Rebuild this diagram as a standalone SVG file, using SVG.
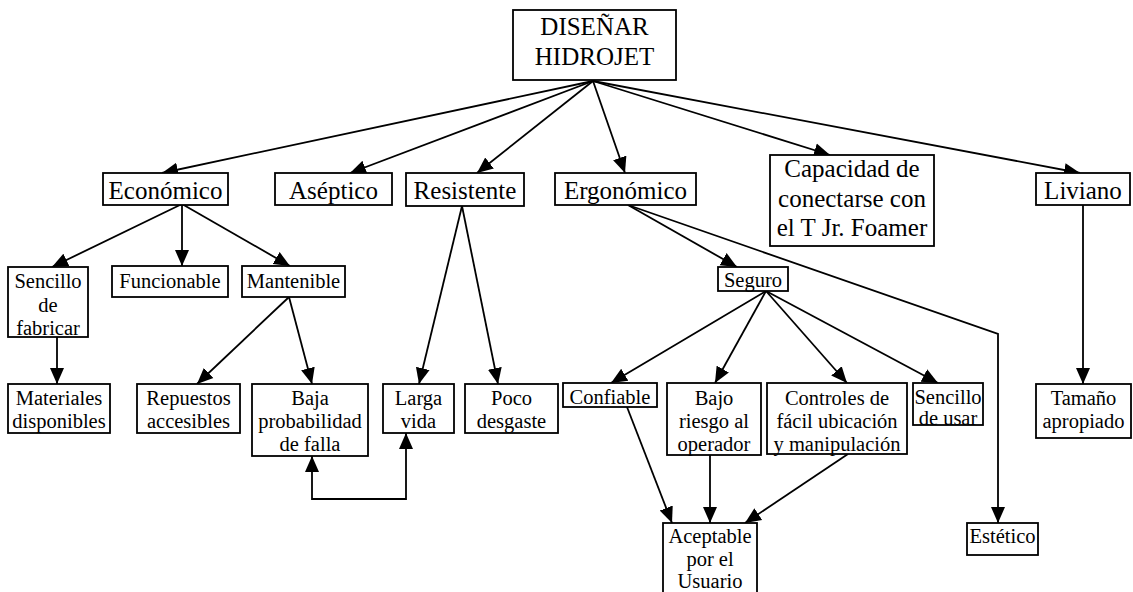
<svg xmlns="http://www.w3.org/2000/svg" width="1133" height="592" viewBox="0 0 1133 592" font-family="'Liberation Serif', 'Times New Roman', 'DejaVu Serif', serif">
<style>
rect{fill:#fff;stroke:#000;stroke-width:1.8}
text{fill:#000;text-anchor:middle}
.b{font-size:25px}
.s{font-size:20.5px}
#edges path,#edges line{fill:none;stroke:#000;stroke-width:1.8;marker-end:url(#ah)}
</style>
<defs>
<marker id="ah" markerUnits="userSpaceOnUse" markerWidth="16" markerHeight="16" viewBox="0 0 16 14" refX="16" refY="7" orient="auto-start-reverse">
<path d="M0,0 L16,7 L0,14 z" fill="#000"/>
</marker>
</defs>
<g id="edges">
<line x1="593" y1="81" x2="162" y2="173"/>
<line x1="593" y1="81" x2="350" y2="173"/>
<line x1="593" y1="81" x2="477" y2="173"/>
<line x1="593" y1="81" x2="625" y2="173"/>
<line x1="593" y1="81" x2="830" y2="155"/>
<line x1="593" y1="81" x2="1080" y2="173"/>
<line x1="182" y1="204" x2="52" y2="267"/>
<line x1="182" y1="204" x2="182" y2="266"/>
<line x1="182" y1="204" x2="290" y2="266"/>
<line x1="57" y1="337" x2="57" y2="384"/>
<line x1="289" y1="297" x2="197" y2="384"/>
<line x1="289" y1="297" x2="312" y2="384"/>
<line x1="462" y1="206" x2="419" y2="384"/>
<line x1="462" y1="206" x2="498" y2="384"/>
<line x1="628" y1="205" x2="737" y2="267"/>
<path d="M628,205 L998,334 L998,523"/>
<line x1="766" y1="291" x2="611" y2="383"/>
<line x1="766" y1="291" x2="715" y2="383"/>
<line x1="766" y1="291" x2="847" y2="383"/>
<line x1="766" y1="291" x2="938" y2="383"/>
<line x1="627" y1="407" x2="672" y2="523"/>
<line x1="710" y1="455" x2="710" y2="523"/>
<line x1="848" y1="454" x2="745" y2="523"/>
<line x1="1083" y1="205" x2="1083" y2="384"/>
<path d="M312,456 L312,499 L406,499 L406,433" style="marker-start:url(#ah)"/>
</g>
<g id="n-top"><rect x="513" y="10" width="163" height="70"/><text class="b" x="594.5" y="35">DISEÑAR</text><text class="b" x="594.5" y="65">HIDROJET</text></g>
<g id="n-economico"><rect x="103" y="173" width="125" height="32"/><text class="b" x="165.5" y="199">Económico</text></g>
<g id="n-aseptico"><rect x="275" y="173" width="117" height="32"/><text class="b" x="333.5" y="199">Aséptico</text></g>
<g id="n-resistente"><rect x="406" y="173" width="118" height="33"/><text class="b" x="465" y="199">Resistente</text></g>
<g id="n-ergonomico"><rect x="555" y="173" width="141" height="32"/><text class="b" x="625.5" y="199">Ergonómico</text></g>
<g id="n-capacidad"><rect x="770" y="155" width="164" height="91"/><text class="b" x="852" y="177">Capacidad de</text><text class="b" x="852" y="207">conectarse con</text><text class="b" x="852" y="236">el T Jr. Foamer</text></g>
<g id="n-liviano"><rect x="1036" y="173" width="94" height="32"/><text class="b" x="1083" y="199">Liviano</text></g>
<g id="n-sencillo-fab"><rect x="8" y="267" width="80" height="70"/><text class="s" x="48" y="288">Sencillo</text><text class="s" x="48" y="312">de</text><text class="s" x="48" y="335">fabricar</text></g>
<g id="n-funcionable"><rect x="112" y="266" width="116" height="31"/><text class="s" x="170" y="288">Funcionable</text></g>
<g id="n-mantenible"><rect x="242" y="266" width="103" height="31"/><text class="s" x="293.5" y="288">Mantenible</text></g>
<g id="n-materiales"><rect x="8" y="384" width="102" height="49"/><text class="s" x="59" y="405">Materiales</text><text class="s" x="59" y="428">disponibles</text></g>
<g id="n-repuestos"><rect x="137" y="384" width="103" height="49"/><text class="s" x="188.5" y="405">Repuestos</text><text class="s" x="188.5" y="428">accesibles</text></g>
<g id="n-baja"><rect x="252" y="384" width="116" height="72"/><text class="s" x="310" y="405">Baja</text><text class="s" x="310" y="428">probabilidad</text><text class="s" x="310" y="451">de falla</text></g>
<g id="n-larga"><rect x="383" y="384" width="71" height="49"/><text class="s" x="418.5" y="405">Larga</text><text class="s" x="418.5" y="428">vida</text></g>
<g id="n-poco"><rect x="465" y="384" width="93" height="49"/><text class="s" x="511.5" y="405">Poco</text><text class="s" x="511.5" y="428">desgaste</text></g>
<g id="n-seguro"><rect x="718" y="267" width="70" height="24"/><text class="s" x="753" y="287">Seguro</text></g>
<g id="n-confiable"><rect x="563" y="383" width="94" height="24"/><text class="s" x="610" y="404">Confiable</text></g>
<g id="n-bajo-riesgo"><rect x="667" y="383" width="94" height="72"/><text class="s" x="714" y="405">Bajo</text><text class="s" x="714" y="428">riesgo al</text><text class="s" x="714" y="451">operador</text></g>
<g id="n-controles"><rect x="767" y="383" width="140" height="71"/><text class="s" x="837" y="405">Controles de</text><text class="s" x="837" y="428">fácil ubicación</text><text class="s" x="837" y="451">y manipulación</text></g>
<g id="n-sencillo-usar"><rect x="913" y="383" width="70" height="42"/><text class="s" x="948" y="404">Sencillo</text><text class="s" x="948" y="425">de usar</text></g>
<g id="n-tamano"><rect x="1036" y="384" width="95" height="54"/><text class="s" x="1083.5" y="405">Tamaño</text><text class="s" x="1083.5" y="428">apropiado</text></g>
<g id="n-aceptable"><rect x="663" y="523" width="94" height="80"/><text class="s" x="710" y="543">Aceptable</text><text class="s" x="710" y="566">por el</text><text class="s" x="710" y="588">Usuario</text></g>
<g id="n-estetico"><rect x="967" y="523" width="71" height="32"/><text class="s" x="1002.5" y="543">Estético</text></g>
</svg>
